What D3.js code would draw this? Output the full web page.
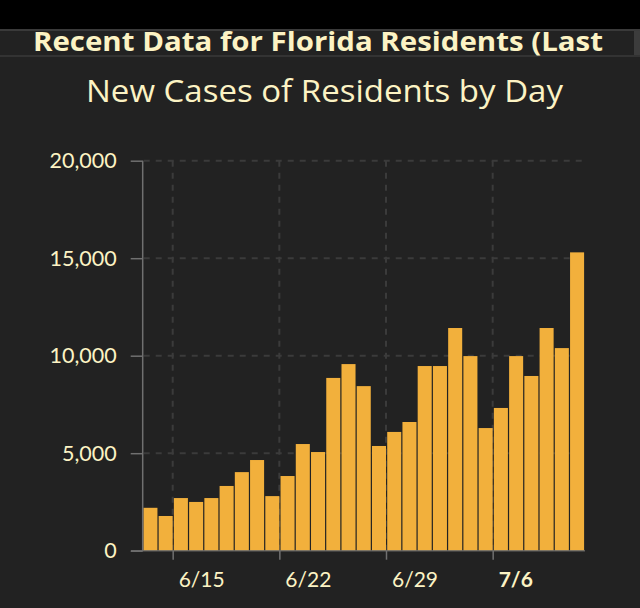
<!DOCTYPE html>
<html><head><meta charset="utf-8">
<script src="https://cdn.jsdelivr.net/npm/d3@7"></script>
<style>html,body{margin:0;padding:0;background:#222222;overflow:hidden} svg{display:block}</style>
</head><body>
<svg id="c" width="640" height="608"></svg>
<script>
// ---- data ----
const days = ["6/13","6/14","6/15","6/16","6/17","6/18","6/19","6/20","6/21","6/22",
  "6/23","6/24","6/25","6/26","6/27","6/28","6/29","6/30","7/1","7/2",
  "7/3","7/4","7/5","7/6","7/7","7/8","7/9","7/10","7/11"];
const newCases = [2200,1780,2700,2500,2700,3320,4030,4650,2800,3830,
  5470,5060,8860,9570,8440,5370,6090,6600,9470,9470,
  11420,9980,6290,7320,9980,8960,11420,10390,15300];
const yTicks = [0,5000,10000,15000,20000];
const xTickLabels = ["6/15","6/22","6/29","7/6"];
const boldTick = "7/6";
const headerText = "Recent Data for Florida Residents (Last";
const chartTitle = "New Cases of Residents by Day";

const parse = s => d3.timeParse("%m/%d/%Y")(s + "/2020");
const dates = days.map(parse);
const data = dates.map((d,i)=>({date:d, value:newCases[i]}));

const svg = d3.select("#c");
const cream = "#fcf3c4";
const barColor = "#f2b03c";
const gridColor = "#3b3b3b";
const axisColor = "#707070";

// header
svg.append("rect").attr("x",0).attr("y",0).attr("width",640).attr("height",29).attr("fill","#000");
svg.append("rect").attr("x",0).attr("y",29).attr("width",640).attr("height",2).attr("fill","#3a3a3a");
svg.append("rect").attr("x",0).attr("y",55).attr("width",640).attr("height",2).attr("fill","#333333");
svg.append("rect").attr("x",634).attr("y",31).attr("width",6).attr("height",24).attr("fill","#3c3c3c");
svg.append("text").attr("x",33).attr("y",51).attr("fill",cream)
  .attr("font-family","'Open Sans'").attr("font-weight","bold").attr("font-size",27)
  .attr("textLength",570).attr("lengthAdjust","spacingAndGlyphs")
  .text(headerText);
svg.append("text").attr("x",86).attr("y",102).attr("fill",cream)
  .attr("font-family","'Open Sans'").attr("font-size",31)
  .attr("textLength",477).attr("lengthAdjust","spacingAndGlyphs")
  .text(chartTitle);

// scales
const x = d3.scaleTime()
  .domain([dates[0], d3.timeDay.offset(dates[dates.length-1],1)])
  .range([142.2, 584.1]);
const y = d3.scaleLinear().domain([0,20000]).range([550.7,160.7]);

const left = 142.7, right = 584.5;

// grid
svg.append("g").selectAll("line").data(yTicks.filter(v=>v>0)).join("line")
  .attr("x1",left+1).attr("x2",right).attr("y1",d=>y(d)).attr("y2",d=>y(d))
  .attr("stroke",gridColor).attr("stroke-width",2).attr("stroke-dasharray","6,6");
const tickDates = xTickLabels.map(parse);
svg.append("g").selectAll("line").data(tickDates).join("line")
  .attr("x1",d=>x(d)).attr("x2",d=>x(d)).attr("y1",y(20000)).attr("y2",y(0))
  .attr("stroke",gridColor).attr("stroke-width",2).attr("stroke-dasharray","6,6");

// bars
svg.append("g").selectAll("rect").data(data).join("rect")
  .attr("x",d=>x(d.date)+1.2)
  .attr("width",d=>x(d3.timeDay.offset(d.date,1))-x(d.date)-1.2)
  .attr("y",d=>y(d.value))
  .attr("height",d=>y(0)-y(d.value))
  .attr("fill",barColor);

// y axis
const yAxis = d3.axisLeft(y).tickValues(yTicks).tickSize(12).tickPadding(14)
  .tickFormat(d3.format(","));
const gy = svg.append("g").attr("transform",`translate(${left},0)`).call(yAxis);
gy.select(".domain").attr("stroke",axisColor).attr("stroke-width",1.5).attr("d",`M0,${y(20000)}V${y(0)}`);
gy.selectAll(".tick line").attr("stroke",axisColor).attr("stroke-width",1.5);
gy.selectAll(".tick text").attr("fill",cream).attr("font-family","Lato").attr("font-size",21.5);

// x axis
const xAxis = d3.axisBottom(x).tickValues(tickDates).tickSize(9).tickPadding(0)
  .tickFormat((d,i)=>xTickLabels[i]);
const gx = svg.append("g").attr("transform",`translate(0,${y(0)})`).call(xAxis);
gx.select(".domain").attr("stroke",axisColor).attr("stroke-opacity",0.8).attr("stroke-width",1.5)
  .attr("d",`M131,0H${right+0.5}`);
gx.selectAll(".tick line").attr("stroke",axisColor).attr("stroke-width",1.5);
gx.selectAll(".tick text").attr("fill",cream).attr("font-family","Lato").attr("font-size",21)
  .attr("text-anchor","start").attr("x",5.5).attr("y",36).attr("dy",null)
  .attr("font-weight",(d,i)=>xTickLabels[i]===boldTick?"bold":"normal");
</script>
</body></html>
